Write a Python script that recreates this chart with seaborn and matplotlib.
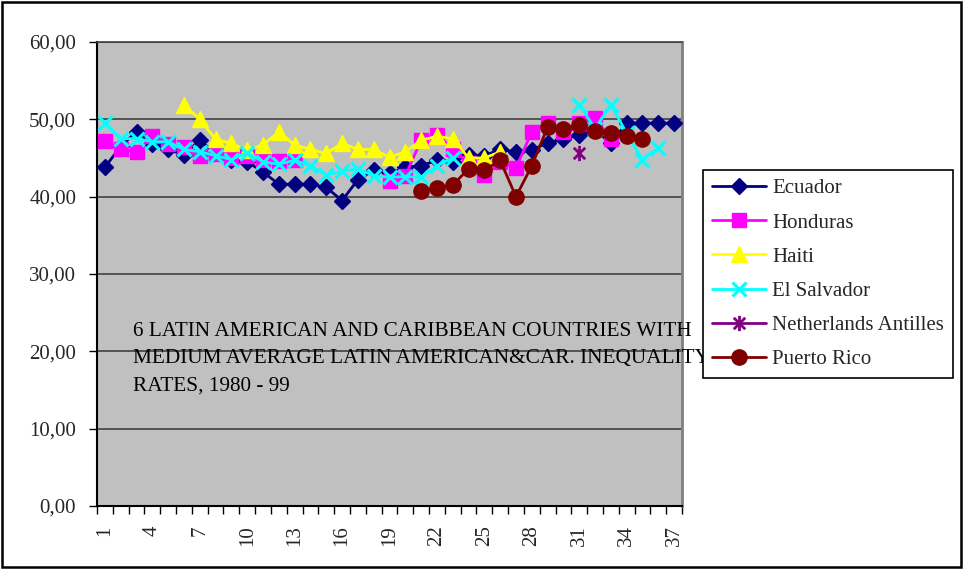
import numpy as np
import pandas as pd
import matplotlib
matplotlib.use("Agg")
import matplotlib.pyplot as plt
from matplotlib.lines import Line2D
from matplotlib.patches import Rectangle
from matplotlib.path import Path
import seaborn as sns

NaN = np.nan

# Observation index (1..37) and inequality values per country
periods = list(range(1, 38))
tick_labels = [str(i) for i in range(1, 38, 3)]

ecuador = [43.8, 46.5, 48.4, 46.8, 46.1, 45.4, 47.3, 45.6, 44.8, 44.5,
           43.2, 41.6, 41.6, 41.6, 41.2, 39.5, 42.2, 43.4, 43.0, 43.8,
           44.0, 44.7, 44.5, 45.4, 45.3, 46.1, 45.8, 46.0, 47.0, 47.4,
           48.0, 48.6, 46.9, 49.5, 49.5, 49.5, 49.5]
honduras = [47.2, 46.1, 45.8, 47.8, 46.8, 46.4, 45.2, 45.5, 45.0, 45.2,
            44.7, 44.6, 44.7, NaN, NaN, NaN, NaN, NaN, 42.0, 42.7,
            47.3, 48.0, 46.1, 44.3, 42.8, 44.5, 43.7, 48.4, 49.5, 48.3,
            49.5, 50.2, 47.4, NaN, NaN, NaN, NaN]
haiti = [NaN, NaN, NaN, NaN, NaN, 51.9, 50.0, 47.4, 46.9, 46.0,
         46.7, 48.4, 46.7, 46.1, 45.6, 46.9, 46.1, 46.1, 45.1, 45.8,
         47.3, 47.8, 47.5, 45.0, 45.0, 45.8, NaN, NaN, NaN, NaN,
         NaN, NaN, NaN, NaN, NaN, NaN, NaN]
el_salvador = [49.5, 47.5, 47.5, 47.1, 47.1, 46.1, 45.8, 45.3, 44.8, 45.7,
               44.5, 44.2, 44.7, 44.0, 42.8, 43.3, 43.6, 42.7, 42.5, 42.6,
               42.5, 44.0, 45.0, NaN, NaN, NaN, NaN, NaN, NaN, NaN,
               51.9, 48.8, 51.9, 48.2, 44.8, 46.3, NaN]
neth_antilles = [NaN] * 30 + [45.6] + [NaN] * 6
puerto_rico = [NaN] * 20 + [40.7, 41.1, 41.5, 43.6, 43.4, 44.7, 40.0, 44.0, 49.0, 48.8,
                            49.3, 48.5, 48.2, 47.8, 47.5, NaN, NaN]

countries = ["Ecuador", "Honduras", "Haiti", "El Salvador",
             "Netherlands Antilles", "Puerto Rico"]
values = [ecuador, honduras, haiti, el_salvador, neth_antilles, puerto_rico]

note = ("6 LATIN AMERICAN AND CARIBBEAN COUNTRIES WITH\n"
        "MEDIUM AVERAGE LATIN AMERICAN&CAR. INEQUALITY\n"
        "RATES, 1980 - 99")

# Asterisk marker: vertical bar plus two diagonals
star_path = Path([(0, -1), (0, 1), (-0.75, -0.75), (0.75, 0.75), (-0.75, 0.75), (0.75, -0.75)],
                 [Path.MOVETO, Path.LINETO, Path.MOVETO, Path.LINETO, Path.MOVETO, Path.LINETO])

styles = {
    "Ecuador": dict(color="#000080", marker="D", ms=8.5, mew=1),
    "Honduras": dict(color="#FF00FF", marker="s", ms=10.5, mew=1),
    "Haiti": dict(color="#FFFF00", marker="^", ms=12, mew=1),
    "El Salvador": dict(color="#00FFFF", marker="x", ms=10.5, mew=2.2),
    "Netherlands Antilles": dict(color="#800080", marker=star_path, ms=11, mew=2),
    "Puerto Rico": dict(color="#800000", marker="o", ms=11, mew=1),
}

sns.set_style("white")
plt.rcParams["font.family"] = ["Liberation Serif", "DejaVu Serif"]

W, H = 963, 569
fig = plt.figure(figsize=(W / 100, H / 100), dpi=100)
fig.patch.set_facecolor("white")

left, right, top, bottom = 97, 682, 42, 506
ax = fig.add_axes([left / W, 1 - bottom / H, (right - left) / W, (bottom - top) / H])
ax.set_facecolor("#C0C0C0")

for name, vals in zip(countries, values):
    s = pd.Series(vals, index=periods, dtype=float)
    seg = s.isna().cumsum()
    df = pd.DataFrame({"period": periods, "value": s.values, "seg": seg.values}).dropna()
    st = styles[name]
    sns.lineplot(data=df, x="period", y="value", units="seg", estimator=None,
                 sort=False, ax=ax, legend=False, color=st["color"], lw=2,
                 marker=st["marker"], markersize=st["ms"],
                 markeredgecolor=st["color"], markerfacecolor=st["color"],
                 markeredgewidth=st["mew"], zorder=3)

ax.set_xlim(0.5, 37.5)
ax.set_ylim(0, 60)
ax.set_xlabel("")
ax.set_ylabel("")

ax.set_yticks(range(0, 61, 10))
ax.set_yticklabels([f"{v:.2f}".replace(".", ",") for v in range(0, 61, 10)])
ax.set_xticks(np.arange(0.5, 38, 1), minor=True)
ax.set_xticks(range(1, 38, 3))
ax.set_xticklabels(tick_labels, rotation=90)

ax.tick_params(axis="y", which="major", direction="out", length=6, width=1,
               color="black", pad=9, labelsize=15, left=True)
ax.tick_params(axis="x", which="major", length=0, pad=14, labelsize=15, bottom=True)
ax.tick_params(axis="x", which="minor", direction="out", length=6, width=1,
               color="black", bottom=True)

ax.yaxis.grid(True, color="#404040", lw=1.2)
ax.xaxis.grid(False)
ax.set_axisbelow(True)

for side in ("left", "bottom"):
    ax.spines[side].set_color("black")
    ax.spines[side].set_linewidth(1.5)
ax.spines["right"].set_color("#808080")
ax.spines["right"].set_linewidth(2)
ax.spines["top"].set_color("#404040")
ax.spines["top"].set_linewidth(1.2)

fig.text(133 / W, 1 - 322 / H, note, ha="left", va="top", fontsize=15.3,
         linespacing=1.58, color="black", zorder=5)

handles = []
for name in countries:
    st = styles[name]
    handles.append(Line2D([], [], color=st["color"], lw=2, marker=st["marker"],
                          markersize=st["ms"], markeredgecolor=st["color"],
                          markerfacecolor=st["color"], markeredgewidth=st["mew"]))
leg = fig.legend(handles, countries, loc="upper left",
                 bbox_to_anchor=(703 / W, 1 - 170 / H), bbox_transform=fig.transFigure,
                 frameon=True, fancybox=False, framealpha=1, edgecolor="black",
                 borderpad=0.42, borderaxespad=0, handlelength=2.6, handletextpad=0.3,
                 labelspacing=0.7, fontsize=15)
leg.get_frame().set_linewidth(1.2)
leg.set_zorder(6)

fig.patches.append(Rectangle((2 / W, 2 / H), (W - 4) / W, (H - 4) / H,
                             transform=fig.transFigure, fill=False,
                             edgecolor="black", lw=1.8, zorder=10))

fig.savefig("out.png", dpi=100, facecolor="white")
